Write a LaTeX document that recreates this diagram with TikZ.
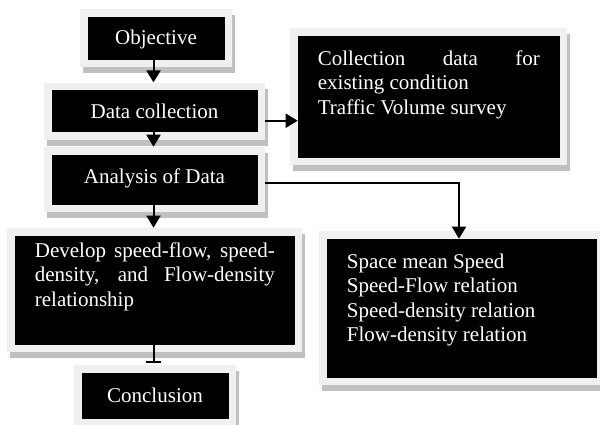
\documentclass[tikz,border=0pt]{standalone}
\usepackage{fontspec}
\setmainfont{Liberation Serif}
\usetikzlibrary{arrows.meta}
\definecolor{framegray}{HTML}{F0F0F0}
\definecolor{shadegray}{HTML}{C0C0C0}
\newcommand\boxfont{\fontsize{21}{24.5}\selectfont}
\tikzset{
  % black box with a light frame and a grey drop shadow
  boxnode/.style={fill=black, draw=black, line width=0.6pt, text=white,
    inner sep=0pt, font=\boxfont,
    preaction={fill=shadegray, draw=shadegray, line width=16pt,
      transform canvas={shift={(3pt,-6pt)}}},
    preaction={fill=framegray, draw=framegray, line width=16pt}},
  bodytext/.style={text=white, inner sep=0pt, align=left, font=\boxfont,
    anchor=north west},
  link/.style={line width=2pt, -{Triangle[length=12pt,width=14pt]}},
}
\begin{document}
\begin{tikzpicture}[x=1pt,y=-1pt]
\fill[white] (0,0) rectangle (600,425);
\useasboundingbox (0,0) rectangle (600,425);

% boxes
\node[boxnode, minimum width=136pt, minimum height=42pt,
      text height=14pt, text depth=-3.4pt] (obj) at (156,38) {Objective};
\node[boxnode, minimum width=205pt, minimum height=41pt,
      text height=14pt, text depth=0pt] (dat) at (154.5,111.2) {Data collection};
\node[boxnode, minimum width=205pt, minimum height=49pt,
      text height=14pt, text depth=5pt] (ana) at (154.5,179.5) {Analysis of Data};
\node[boxnode, minimum width=279pt, minimum height=108pt] (dev) at (154.5,290) {};
\node[boxnode, minimum width=146pt, minimum height=45pt,
      text height=14pt, text depth=0pt] (con) at (155,395.5) {Conclusion};
\node[boxnode, minimum width=261pt, minimum height=121pt] (col) at (428.5,96.5) {};
\node[boxnode, minimum width=269pt, minimum height=138pt] (spc) at (461.5,308) {};

% box texts
\node[bodytext] (coltxt) at ([shift={(20pt,-14.7pt)}]col.north west)
  {\makebox[222pt][s]{Collection data for}\\existing condition\\Traffic Volume survey};
\node[bodytext] (devtxt) at ([shift={(20pt,-6.7pt)}]dev.north west)
  {\makebox[240pt][s]{Develop speed-flow, speed-}\\\makebox[240pt][s]{density, and Flow-density}\\relationship};
\node[bodytext] (spctxt) at ([shift={(20pt,-14.7pt)}]spc.north west)
  {Space mean Speed\\Speed-Flow relation\\Speed-density relation\\Flow-density relation};

% connectors
\draw[link, shorten >=8pt] ([xshift=-1pt]dat.north |- obj.south) -- ([xshift=-1pt]dat.north);
\draw[link, shorten >=8pt] ([xshift=-1pt]dat.south) -- ([xshift=-1pt]ana.north);
\draw[link, shorten >=8pt] ([xshift=-1pt]ana.south) -- ([xshift=-1pt]ana.south |- dev.north);
\draw[line width=2pt, -{Bar[width=15pt]}, shorten >=10pt]
  ([xshift=-1pt]dev.south) -- ([xshift=-1pt]dev.south |- con.north);
\draw[link, shorten <=8pt] ([yshift=-9.5pt]dat.east) -- ([yshift=-9.5pt]dat.east -| col.west);
\draw[link, shorten <=8pt] ([yshift=-3.5pt]ana.east) -| ([xshift=-2.5pt]spc.north);
\end{tikzpicture}
\end{document}
